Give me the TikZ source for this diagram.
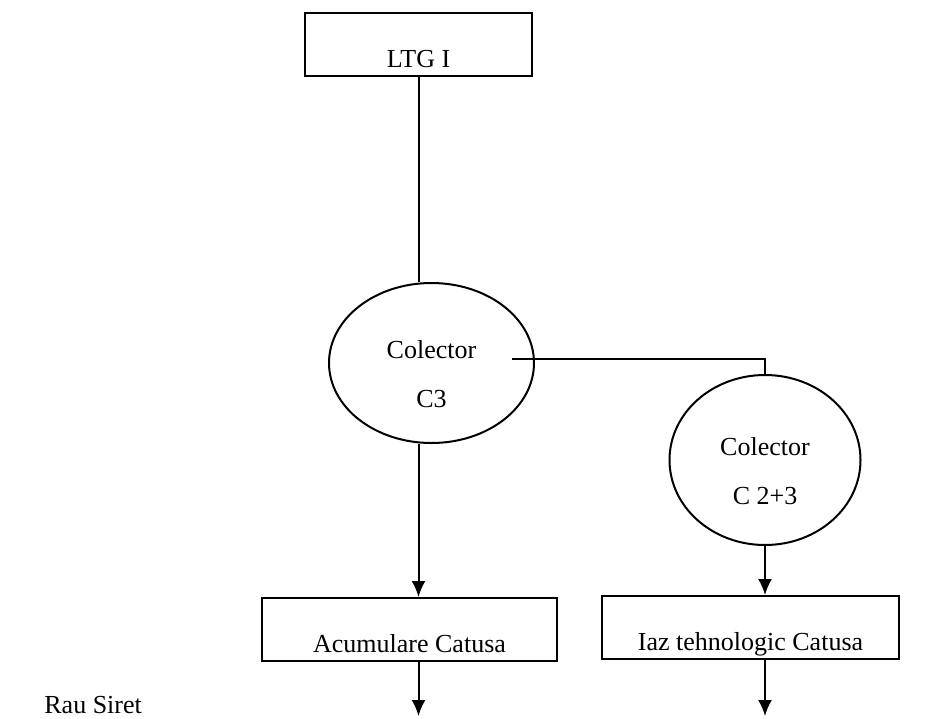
\documentclass[tikz,border=0pt]{standalone}
\usepackage{fontspec}
\setmainfont{Liberation Serif}
\usetikzlibrary{shapes,arrows.meta}
\usetikzlibrary{positioning}
\tikzstyle{block} = [
	draw,
	line width=1pt,
	minimum width=113.5pt,
	minimum height=31.5pt,
	inner ysep=0pt,
	text height=23pt,
	text depth=0pt,
	font=\fontsize{13}{15.5}\selectfont
]
\tikzstyle{colector} = [
	draw,
	ellipse,
	line width=1pt,
	inner sep=0pt,
	align=center,
	text height=44pt,
	text depth=0pt,
	font=\fontsize{13}{15.5}\selectfont
]
\tikzstyle{output} = [coordinate]
\tikzstyle{flow} = [line width=1pt, -{Latex[length=8pt,width=7pt]}]

\begin{document}
\begin{tikzpicture}[x=0.5pt, y=-0.5pt]
	\useasboundingbox (0,0) rectangle (931,718);
	\node[block, name=ltg] at (418.5,44.5) {LTG I};
	\node[colector, name=c3, minimum width=102.5pt, minimum height=80pt] at (431.5,363) {Colector\\[9pt]C3};
	\node[colector, name=c23, minimum width=95.5pt, minimum height=85pt] at (765,460) {Colector\\[9pt]C 2+3};
	\node[block, name=acum, minimum width=147.5pt] at (409.5,629.5) {Acumulare Catusa};
	\node[block, name=iaz, minimum width=148.5pt] at (750.5,627.5) {Iaz tehnologic Catusa};
	\node[anchor=base west, inner sep=0pt, font=\fontsize{13}{15.5}\selectfont, name=siret] at (44,713) {Rau Siret};
	\node[output, name=out1] at (ltg.south |- 0,716) {};
	\node[output, name=out2] at (c23.south |- 0,716) {};

	\draw[line width=1pt] (ltg.south) -- (ltg.south |- c3.north);
	\draw[line width=1pt] ([shift={(80.5,-4)}]c3.center) -| (c23.north);
	\draw[flow] (ltg.south |- c3.south) -- (ltg.south |- acum.north);
	\draw[flow] (c23.south) -- (c23.south |- iaz.north);
	\draw[flow] (ltg.south |- acum.south) -- (out1);
	\draw[flow] (c23.south |- iaz.south) -- (out2);
\end{tikzpicture}
\end{document}
